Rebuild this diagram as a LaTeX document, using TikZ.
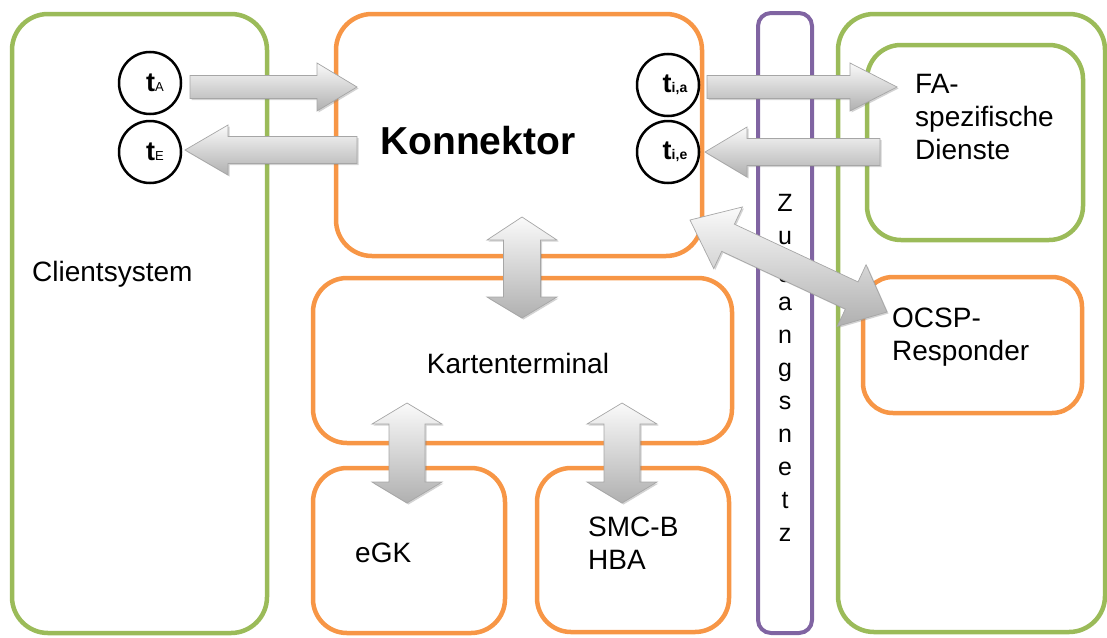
\documentclass[tikz,border=0pt]{standalone}
\usepackage{fontspec}
\setmainfont{Liberation Sans}
\usetikzlibrary{calc,shadows}
\definecolor{cgreen}{HTML}{9BBB59}
\definecolor{corange}{HTML}{F79646}
\definecolor{cpurple}{HTML}{8064A2}
\tikzset{
  box/.style={line width=4.5pt, rounded corners=36pt, inner sep=0pt},
  gbox/.style={box, draw=cgreen},
  obox/.style={box, draw=corange},
  pbox/.style={box, draw=cpurple, line width=4pt, rounded corners=13pt},
  lbl/.style={font=\fontsize{28}{33}\selectfont, anchor=base west, inner sep=0pt, align=left},
  letter/.style={font=\fontsize{25}{25}\selectfont, anchor=base, inner sep=0pt},
  tcirc/.style={circle, draw=black, line width=2.5pt, fill=white, minimum size=62pt, inner sep=0pt, font=\fontsize{27}{27}\selectfont},
  barrow/.style={draw=gray!70, line width=0.7pt, top color=gray!4, bottom color=gray!62,
    drop shadow={shadow xshift=1.5pt, shadow yshift=-1.5pt, opacity=0.35}},
}
% single block arrow: name, from, to, shaft half width, head half width, head length
\newcommand\blockarrow[6]{%
  \coordinate (#1h) at ($(#3)!#6!(#2)$);
  \path[barrow] ($(#2)!#4!90:(#3)$) -- ($(#1h)!#4!-90:(#2)$) -- ($(#1h)!#5!-90:(#2)$)
    -- (#3) -- ($(#1h)!#5!90:(#2)$) -- ($(#1h)!#4!90:(#2)$) -- ($(#2)!#4!-90:(#3)$) -- cycle;
}
% double block arrow: name, a, b, shaft half, head half, head length at a, head length at b
\newcommand\dblockarrow[7]{%
  \coordinate (#1a) at ($(#2)!#6!(#3)$);
  \coordinate (#1b) at ($(#3)!#7!(#2)$);
  \path[barrow] (#2) -- ($(#1a)!#5!90:(#3)$) -- ($(#1a)!#4!90:(#3)$) -- ($(#1b)!#4!-90:(#2)$)
    -- ($(#1b)!#5!-90:(#2)$) -- (#3) -- ($(#1b)!#5!90:(#2)$) -- ($(#1b)!#4!90:(#2)$)
    -- ($(#1a)!#4!-90:(#3)$) -- ($(#1a)!#5!-90:(#3)$) -- cycle;
}
\begin{document}
\begin{tikzpicture}[x=1pt,y=-1pt]
\useasboundingbox (0,0) rectangle (1107,637);
% boxes
\node[gbox, minimum width=255pt, minimum height=619pt] (client) at (139.5,323.5) {};
\node[obox, minimum width=366pt, minimum height=242pt] (konn) at (519,135) {};
\node[obox, minimum width=419pt, minimum height=165pt, rounded corners=34pt] (kt) at (522.5,360.5) {};
\node[obox, minimum width=192pt, minimum height=165pt, rounded corners=34pt] (egk) at (409,550.5) {};
\node[obox, minimum width=192pt, minimum height=164pt, rounded corners=34pt] (smc) at (633,550) {};
\node[pbox, minimum width=54pt, minimum height=620pt] (zug) at (785,323) {};
\node[gbox, minimum width=267pt, minimum height=618pt] (right) at (971.5,323) {};
\node[gbox, minimum width=216pt, minimum height=195pt, rounded corners=34pt] (fa) at (975,142.5) {};
\node[obox, minimum width=219pt, minimum height=136pt, rounded corners=30pt] (ocsp) at (972.5,345) {};
% labels (multi-line: base = last line)
\node[lbl] (lclient) at (32,281) {Clientsystem};
\node[lbl, font=\fontsize{39}{39}\selectfont\bfseries] (lkonn) at (380,154) {Konnektor};
\node[lbl, anchor=base] (lkt) at (518,373) {Kartenterminal};
\node[lbl] (legk) at (355,562) {eGK};
\node[lbl] (lsmc) at (588,569) {SMC-B\\HBA};
\node[lbl] (lfa) at (915,159) {FA-\\spezifische\\Dienste};
\node[lbl] (locsp) at (892,360) {OCSP-\\Responder};
\foreach \ch [count=\i from 0] in {Z,u,g,a,n,g,s,n,e,t,z}
  \node[letter] (zl\i) at (785,{211+33*\i}) {\ch};
% circles
\node[tcirc] (tA) at (150,83) {\hspace*{10pt}\textbf{t}{\fontsize{13}{13}\selectfont A}};
\node[tcirc] (tE) at (150,152) {\hspace*{10pt}\textbf{t}{\fontsize{13}{13}\selectfont E}};
\node[tcirc] (tia) at (668,85) {\hspace*{14pt}\textbf{t}{\fontsize{14}{14}\selectfont\bfseries i,a}};
\node[tcirc] (tie) at (668,152) {\hspace*{14pt}\textbf{t}{\fontsize{14}{14}\selectfont\bfseries i,e}};
% arrow end points
\coordinate (a1s) at (190,87);  \coordinate (a1e) at (357,87);
\coordinate (a2s) at (357,150); \coordinate (a2e) at (185,150);
\coordinate (a3s) at (707,87);  \coordinate (a3e) at (897,87);
\coordinate (a4s) at (880,152); \coordinate (a4e) at (705,152);
\coordinate (v1s) at (522,217); \coordinate (v1e) at (522,318);
\coordinate (v2s) at (407,403); \coordinate (v2e) at (407,503);
\coordinate (v3s) at (622,403); \coordinate (v3e) at (622,503);
\coordinate (d1s) at (690,220); \coordinate (d1e) at (887,312);
% arrows
\blockarrow{A1}{a1s}{a1e}{11.5pt}{24pt}{40pt}
\blockarrow{A2}{a2s}{a2e}{13.5pt}{25pt}{43pt}
\blockarrow{A3}{a3s}{a3e}{11.5pt}{24pt}{47pt}
\blockarrow{A4}{a4s}{a4e}{13.5pt}{25pt}{42pt}
\dblockarrow{V1}{v1s}{v1e}{18.5pt}{35pt}{23pt}{21pt}
\dblockarrow{V2}{v2s}{v2e}{18pt}{35pt}{21pt}{21pt}
\dblockarrow{V3}{v3s}{v3e}{18pt}{35pt}{21pt}{21pt}
\dblockarrow{D1}{d1s}{d1e}{15pt}{34pt}{42pt}{39pt}
\end{tikzpicture}
\end{document}
